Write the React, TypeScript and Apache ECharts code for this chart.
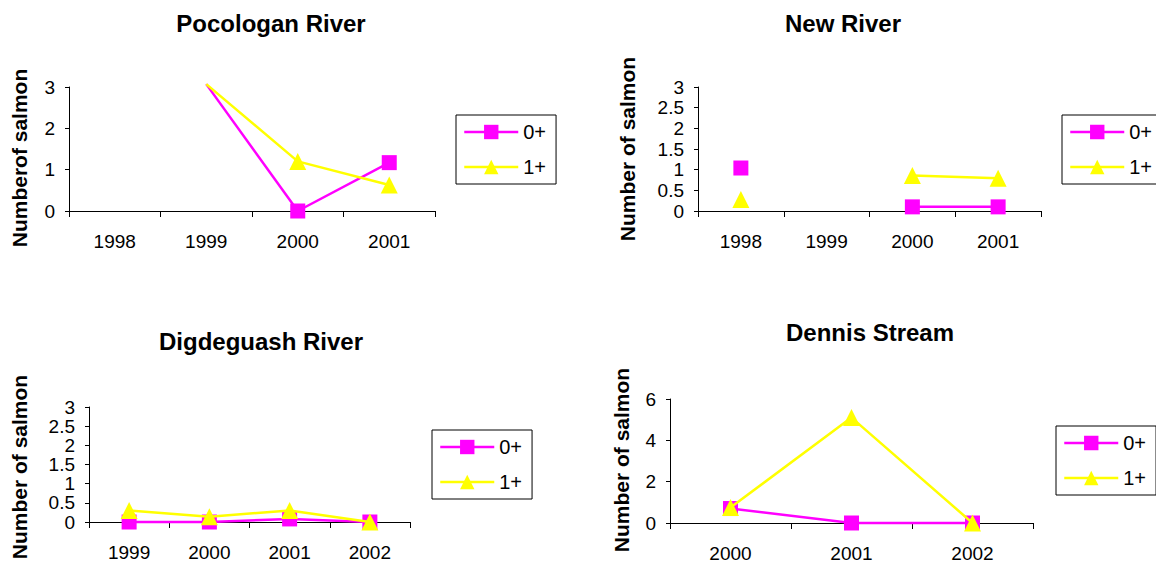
import React, { useEffect, useRef } from "react";
import * as echarts from "echarts";

// ---- data ----
const pocologanYears = ["1998", "1999", "2000", "2001"];
const pocologan0 = [null, 3.07, 0, 1.17];
const pocologan1 = [null, 3.07, 1.2, 0.63];

const newRiverYears = ["1998", "1999", "2000", "2001"];
const newRiver0 = [1.04, null, 0.1, 0.1];
const newRiver1 = [0.28, null, 0.86, 0.79];

const digdeguashYears = ["1999", "2000", "2001", "2002"];
const digdeguash0 = [0, 0, 0.08, 0];
const digdeguash1 = [0.3, 0.14, 0.3, 0];

const dennisYears = ["2000", "2001", "2002"];
const dennis0 = [0.7, 0, 0];
const dennis1 = [0.75, 5.1, 0];

const seriesNames = ["0+", "1+"];
const titles = ["Pocologan River", "New River", "Digdeguash River", "Dennis Stream"];
const yTitles = ["Numberof salmon", "Number of salmon", "Number of salmon", "Number of salmon"];
const yMaxes = [3, 3, 3, 6];
const yIntervals = [1, 0.5, 0.5, 2];

const FONT = "'Liberation Sans', Arial, Helvetica, sans-serif";
const MAGENTA = "#FF00FF";
const YELLOW = "#FFFF00";

const panels = [
  { years: pocologanYears, s0: pocologan0, s1: pocologan1, grid: { left: 69, top: 87, width: 366, height: 124 }, title: [271, 11], yTitle: [19, 158], legend: [456, 115] },
  { years: newRiverYears, s0: newRiver0, s1: newRiver1, grid: { left: 698, top: 87, width: 343, height: 124 }, title: [843, 11], yTitle: [627, 149], legend: [1062, 115] },
  { years: digdeguashYears, s0: digdeguash0, s1: digdeguash1, grid: { left: 89, top: 407, width: 321, height: 115 }, title: [261, 329], yTitle: [19, 467], legend: [432, 430] },
  { years: dennisYears, s0: dennis0, s1: dennis1, grid: { left: 670, top: 399, width: 363, height: 124 }, title: [870, 320], yTitle: [621, 460], legend: [1056, 426] },
];

function buildOption() {
  const grid: any[] = [];
  const xAxis: any[] = [];
  const yAxis: any[] = [];
  const series: any[] = [];
  const title: any[] = [];
  const legend: any[] = [];
  const graphic: any[] = [];

  panels.forEach((p, i) => {
    grid.push({ ...p.grid, containLabel: false });
    xAxis.push({
      type: "category",
      gridIndex: i,
      data: p.years,
      boundaryGap: true,
      axisLine: { show: true, lineStyle: { color: "#000", width: 1 } },
      axisTick: { show: true, alignWithLabel: false, interval: 0, length: 6, lineStyle: { color: "#000" } },
      axisLabel: { color: "#000", fontSize: 19, fontFamily: FONT, margin: 21, interval: 0 },
      splitLine: { show: false },
    });
    yAxis.push({
      type: "value",
      gridIndex: i,
      min: 0,
      max: yMaxes[i],
      interval: yIntervals[i],
      axisLine: { show: true, lineStyle: { color: "#000", width: 1 } },
      axisTick: { show: true, length: 4, lineStyle: { color: "#000" } },
      axisLabel: {
        color: "#000",
        fontSize: 19,
        lineHeight: 18,
        fontFamily: FONT,
        margin: 14,
        showMinLabel: true,
        showMaxLabel: true,
        hideOverlap: false,
      },
      splitLine: { show: false },
    });
    const mk = (vals: (number | null)[]) =>
      vals.map((v) => (v !== null && v > yMaxes[i] ? { value: v, symbol: "none" } : v));
    series.push({
      name: seriesNames[0],
      type: "line",
      xAxisIndex: i,
      yAxisIndex: i,
      data: mk(p.s0),
      symbol: "rect",
      symbolSize: 15,
      clip: false,
      connectNulls: false,
      lineStyle: { color: MAGENTA, width: 2.5 },
      itemStyle: { color: MAGENTA },
      z: 2,
    });
    series.push({
      name: seriesNames[1],
      type: "line",
      xAxisIndex: i,
      yAxisIndex: i,
      data: mk(p.s1),
      symbol: "triangle",
      symbolSize: 17,
      clip: false,
      connectNulls: false,
      lineStyle: { color: YELLOW, width: 2.5 },
      itemStyle: { color: YELLOW },
      z: 3,
    });
    title.push({
      text: titles[i],
      left: p.title[0],
      top: p.title[1],
      padding: 0,
      textAlign: "center",
      textStyle: { fontFamily: FONT, fontWeight: "bold", fontSize: 24, color: "#000" },
    });
    legend.push({
      data: seriesNames,
      orient: "vertical",
      left: p.legend[0],
      top: p.legend[1],
      padding: [7, 10, 7, 7],
      itemGap: 15,
      itemWidth: 54,
      itemHeight: 18,
      borderColor: "#000",
      borderWidth: 1,
      backgroundColor: "#fff",
      lineStyle: { width: 2.5 },
      textStyle: { fontFamily: FONT, fontSize: 20, color: "#000" },
    });
    graphic.push({
      type: "text",
      x: p.yTitle[0],
      y: p.yTitle[1],
      rotation: Math.PI / 2,
      style: {
        text: yTitles[i],
        font: `bold 21px ${FONT}`,
        fill: "#000",
        textAlign: "center",
        textVerticalAlign: "middle",
      },
    });
  });

  return {
    animation: false,
    backgroundColor: "#fff",
    grid,
    xAxis,
    yAxis,
    series,
    title,
    legend,
    graphic,
  };
}

export default function App() {
  const ref = useRef<HTMLDivElement>(null);
  useEffect(() => {
    if (!ref.current) return;
    const chart = echarts.init(ref.current, null, { renderer: "svg" });
    chart.setOption(buildOption() as any);
    return () => chart.dispose();
  }, []);
  return (
    <div
      ref={ref}
      style={{ position: "fixed", left: 0, top: 0, width: 1156, height: 567, background: "#fff" }}
    />
  );
}
